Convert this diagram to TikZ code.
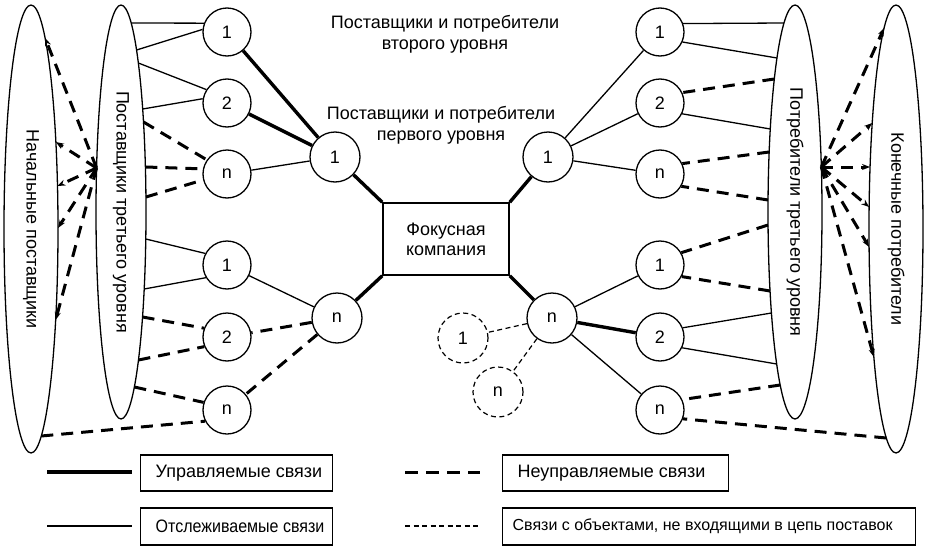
\documentclass[tikz,border=0pt]{standalone}
\usepackage{fontspec}
\setmainfont{Liberation Sans}
\usetikzlibrary{shapes.geometric,arrows.meta}
% point on the border of an axis-parallel ellipse: name, cx, cy, rx, ry, y, side
\newcommand\EllPt[7]{\coordinate (#1) at ({#2+#7*#4*sqrt(1-((#6-#3)/#5)^2)},{#6});}
\tikzset{
  circ/.style={circle,draw,line width=1.3pt,minimum size=48pt,inner sep=0pt},
  dcirc/.style={circ,minimum size=50pt,line width=1.2pt,dash pattern=on 5pt off 3.5pt},
  ell/.style={ellipse,draw,line width=1.3pt,inner sep=0pt,rotate=-90},
  ctrl/.style={line width=3.4pt},
  trk/.style={line width=1.3pt},
  unc/.style={line width=3pt,dash pattern=on 12pt off 8pt},
  outl/.style={line width=1.2pt,dash pattern=on 5pt off 3.5pt},
  fan/.style={unc,-{Stealth[length=8pt,width=6pt]}},
  legbox/.style={draw,line width=1.3pt,anchor=west,inner xsep=0pt,inner ysep=0pt},
  txt/.style={align=center},
}
\begin{document}
\begin{tikzpicture}[x=1pt,y=-1pt,font=\fontsize{18pt}{21pt}\selectfont]
\useasboundingbox (0,0) rectangle (930,549);

% ellipses
\node[ell,minimum width=448pt,minimum height=54pt] (E1) at (31,229) {Начальные поставщики};
\node[ell,minimum width=414pt,minimum height=50pt] (E2) at (121,212) {Поставщики третьего уровня};
\node[ell,minimum width=414pt,minimum height=54pt] (E3) at (795,212) {Потребители третьего уровня};
\node[ell,minimum width=448pt,minimum height=54pt] (E4) at (896,229) {Конечные потребители};

% focus company
\node[draw,line width=1.5pt,minimum width=126pt,minimum height=72pt,align=center] (F) at (446,239) {Фокусная\\[-1pt]компания};

% titles
\node[txt] (T2) at (445,34) {Поставщики и потребители\\второго уровня};
\node[txt] (T1) at (441,125) {Поставщики и потребители\\первого уровня};

% circles left
\node[circ] (L1) at (227,32) {1};
\node[circ] (L2) at (227,103) {2};
\node[circ] (Ln) at (227,174) {n};
\node[circ] (L1b) at (227,265) {1};
\node[circ] (L2b) at (227,337) {2};
\node[circ] (Lnb) at (227,410) {n};
\node[circ,minimum size=50pt] (ML1) at (335,157) {1};
\node[circ,minimum size=50pt] (MLn) at (337,318) {n};
% circles right
\node[circ] (R1) at (660,32) {1};
\node[circ] (R2) at (660,103) {2};
\node[circ] (Rn) at (660,174) {n};
\node[circ] (R1b) at (660,265) {1};
\node[circ] (R2b) at (660,337) {2};
\node[circ] (Rnb) at (660,410) {n};
\node[circ,minimum size=50pt] (MR1) at (548,157) {1};
\node[circ,minimum size=50pt] (MRn) at (552,318) {n};
% outside objects
\node[dcirc] (D1) at (463,338) {1};
\node[dcirc] (Dn) at (498,392) {n};

% focus links
\draw[ctrl] (F.north west) -- (ML1);
\draw[ctrl] (F.south west) -- (MLn);
\draw[ctrl] (F.north east) -- (MR1);
\draw[ctrl] (F.south east) -- (MRn);

% first to second level, left
\draw[ctrl] (ML1) -- (L1);
\draw[ctrl] (ML1) -- (L2);
\draw[trk] (ML1) -- (Ln);
\draw[trk] (MLn) -- (L1b);
\draw[unc] (MLn) -- (L2b);
\draw[unc] (MLn) -- (Lnb);
% right
\draw[trk] (MR1) -- (R1);
\draw[trk] (MR1) -- (R2);
\draw[trk] (MR1) -- (Rn);
\draw[trk] (MRn) -- (R1b);
\draw[ctrl] (MRn) -- (R2b);
\draw[trk] (MRn) -- (Rnb);
\draw[outl] (MRn) -- (D1);
\draw[outl] (MRn) -- (Dn);

% second level to third-level suppliers (E2)
\EllPt{a1}{121}{212}{25}{207}{23}{1}
\EllPt{a2}{121}{212}{25}{207}{50}{1}
\EllPt{a3}{121}{212}{25}{207}{63}{1}
\EllPt{a4}{121}{212}{25}{207}{109}{1}
\EllPt{a5}{121}{212}{25}{207}{122}{1}
\EllPt{a6}{121}{212}{25}{207}{167}{1}
\EllPt{a7}{121}{212}{25}{207}{197}{1}
\EllPt{a8}{121}{212}{25}{207}{239}{1}
\EllPt{a9}{121}{212}{25}{207}{289}{1}
\EllPt{a10}{121}{212}{25}{207}{317}{1}
\EllPt{a11}{121}{212}{25}{207}{360}{1}
\EllPt{a12}{121}{212}{25}{207}{387}{1}
\EllPt{a13}{31}{229}{27}{224}{436}{1}
\draw[trk] (a1) -- (L1.159);
\draw[trk] (a2) -- (L1.174);
\draw[trk] (a3) -- (L2.147);
\draw[trk] (a4) -- (L2.170);
\draw[unc] (a5) -- (Ln.145);
\draw[unc] (a6) -- (Ln.168);
\draw[unc] (a7) -- (Ln.194);
\draw[trk] (a8) -- (L1b.152);
\draw[trk] (a9) -- (L1b.211);
\draw[unc] (a10) -- (L2b.159);
\draw[unc] (a11) -- (L2b.203);
\draw[unc] (a12) -- (Lnb.162);
\draw[unc] (a13) -- (Lnb.207);

% second level to third-level consumers (E3)
\EllPt{b1}{795}{212}{27}{207}{23}{-1}
\EllPt{b2}{795}{212}{27}{207}{58}{-1}
\EllPt{b3}{795}{212}{27}{207}{79}{-1}
\EllPt{b4}{795}{212}{27}{207}{129}{-1}
\EllPt{b5}{795}{212}{27}{207}{152}{-1}
\EllPt{b6}{795}{212}{27}{207}{200}{-1}
\EllPt{b7}{795}{212}{27}{207}{225}{-1}
\EllPt{b8}{795}{212}{27}{207}{291}{-1}
\EllPt{b9}{795}{212}{27}{207}{313}{-1}
\EllPt{b10}{795}{212}{27}{207}{364}{-1}
\EllPt{b11}{795}{212}{27}{207}{385}{-1}
\EllPt{b12}{896}{229}{27}{224}{438}{-1}
\draw[trk] (b1) -- (R1.20);
\draw[trk] (b2) -- (R1.336);
\draw[unc] (b3) -- (R2.25);
\draw[trk] (b4) -- (R2.334);
\draw[unc] (b5) -- (Rn.25);
\draw[unc] (b6) -- (Rn.330);
\draw[unc] (b7) -- (R1b.30);
\draw[unc] (b8) -- (R1b.332);
\draw[trk] (b9) -- (R2b.22);
\draw[trk] (b10) -- (R2b.334);
\draw[unc] (b11) -- (Rnb.25);
\draw[unc] (b12) -- (Rnb.339);

% fan: initial suppliers -> third-level suppliers
\EllPt{lc}{121}{212}{25}{207}{168}{-1}
\EllPt{f1}{31}{229}{27}{224}{38}{1}
\EllPt{f2}{31}{229}{27}{224}{142}{1}
\EllPt{f3}{31}{229}{27}{224}{186}{1}
\EllPt{f4}{31}{229}{27}{224}{228}{1}
\EllPt{f5}{31}{229}{27}{224}{320}{1}
\foreach \t in {f1,f2,f3,f4,f5} \draw[fan] (lc) -- (\t);
% fan: third-level consumers -> end consumers
\EllPt{rc}{795}{212}{27}{207}{167}{1}
\EllPt{g1}{896}{229}{27}{224}{28}{-1}
\EllPt{g2}{896}{229}{27}{224}{123}{-1}
\EllPt{g3}{896}{229}{27}{224}{167}{-1}
\EllPt{g4}{896}{229}{27}{224}{207}{-1}
\EllPt{g5}{896}{229}{27}{224}{247}{-1}
\EllPt{g6}{896}{229}{27}{224}{357}{-1}
\foreach \t in {g1,g2,g3,g4,g5,g6} \draw[fan] (rc) -- (\t);

% legend
\coordinate (k1a) at (47,472); \coordinate (k1b) at (132,472);
\coordinate (k2a) at (405,472); \coordinate (k2b) at (480,472);
\coordinate (k3a) at (47,526); \coordinate (k3b) at (132,526);
\coordinate (k4a) at (405,526); \coordinate (k4b) at (480,526);
\draw[ctrl] (k1a) -- (k1b);
\draw[unc,dash pattern=on 13pt off 8pt] (k2a) -- (k2b);
\draw[trk] (k3a) -- (k3b);
\draw[outl] (k4a) -- (k4b);
\node[legbox,minimum height=36pt] (B1) at (140,473) {\makebox[192pt][l]{\hspace*{15pt}Управляемые связи}};
\node[legbox,minimum height=36pt] (B2) at (502,473) {\makebox[226pt][l]{\hspace*{15pt}Неуправляемые связи}};
\node[legbox,minimum height=37pt] (B3) at (140,526.5) {\makebox[192pt][l]{\hspace*{15pt}\scalebox{0.89}[1]{Отслеживаемые связи}}};
\node[legbox,minimum height=37pt,font=\fontsize{16pt}{19pt}\selectfont] (B4) at (502,526.5) {\makebox[413pt][l]{\hspace*{10pt}Связи с объектами, не входящими в цепь поставок}};
\end{tikzpicture}
\end{document}
